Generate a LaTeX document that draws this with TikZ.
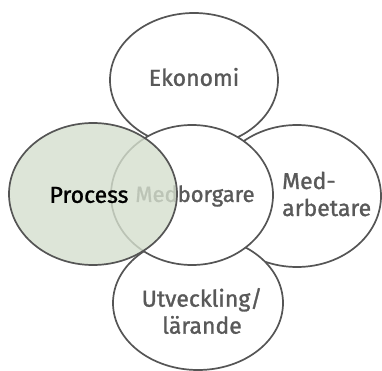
\documentclass[tikz,border=0pt]{standalone}
\usepackage{fontspec}
\setmainfont{Fira Sans}[BoldFont={Fira Sans},BoldFeatures={FakeBold=1.2}]
\definecolor{edge}{HTML}{555555}
\definecolor{txt}{HTML}{595959}
\definecolor{procfill}{HTML}{D5DFCE}
\begin{document}
\begin{tikzpicture}[x=1pt,y=-1pt,
  petal/.style={draw=edge,line width=1.7pt,fill=white},
  lbl/.style={text=txt,font=\fontsize{23}{27}\selectfont\bfseries,align=left,inner sep=0pt}]
\useasboundingbox (0,0) rectangle (382,371);
\draw[petal] (194,80) ellipse [x radius=84,y radius=67];
\draw[petal] (297,196) ellipse [x radius=84,y radius=71];
\draw[petal] (198,303) ellipse [x radius=85,y radius=67];
\draw[petal] (192,195) ellipse [x radius=81,y radius=70];
\node[lbl] (eko) at (194,77) {Ekonomi};
\node[lbl,font=\fontsize{22}{26}\selectfont\bfseries] (medb) at (195,196) {Medborgare};
\node[lbl,anchor=west] (meda) at (282,194) {Med-\\arbetare};
\node[lbl,align=center] (utv) at (202,311) {Utveckling/\\lärande};
\draw[draw=edge,line width=1.7pt,fill=procfill,fill opacity=0.8] (93,194) ellipse [x radius=84,y radius=71];
\node[lbl,text=black] (proc) at (89,195) {Process};
\end{tikzpicture}
\end{document}
